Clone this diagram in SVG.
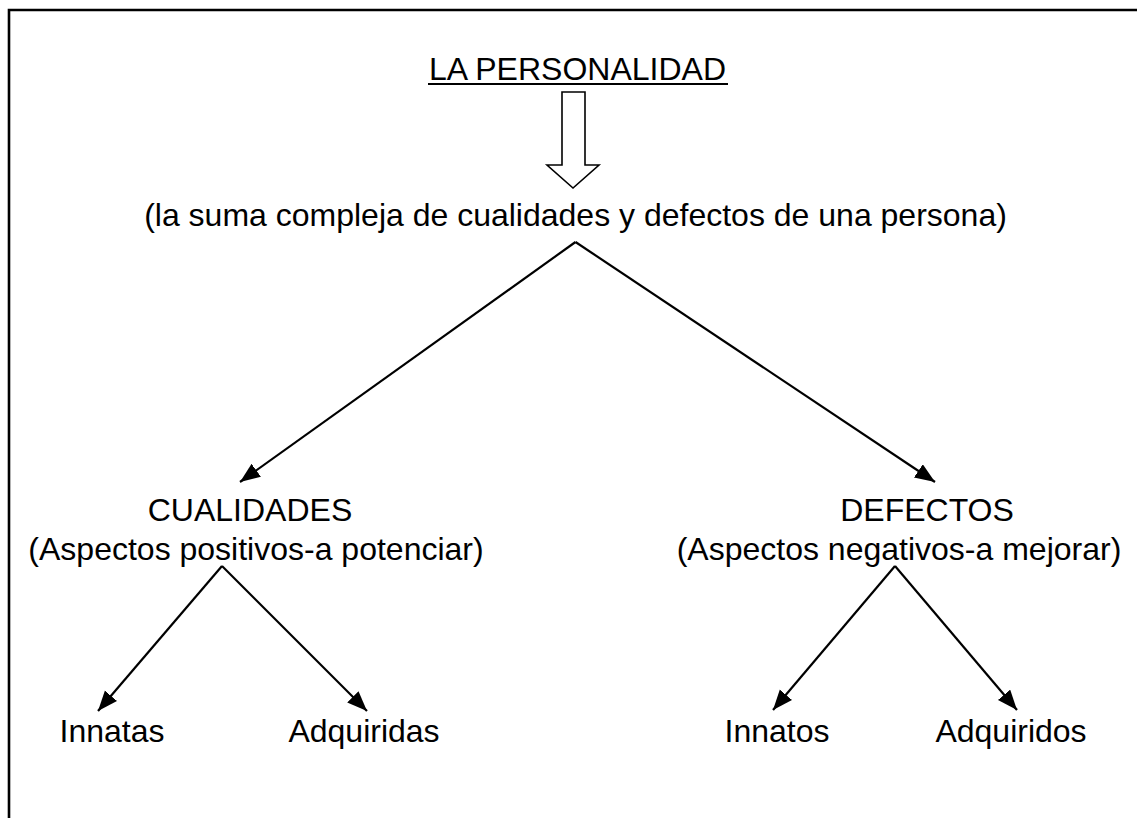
<svg xmlns="http://www.w3.org/2000/svg" width="1137" height="818" viewBox="0 0 1137 818">
<style>
text{font-family:"Liberation Sans",Arial,sans-serif;font-size:32px;fill:#000;text-anchor:middle}
.c{stroke:#000;stroke-width:2.2;fill:none}
</style>
<defs>
<marker id="ah" markerUnits="userSpaceOnUse" markerWidth="22" markerHeight="18" refX="20" refY="8" orient="auto">
<path d="M0,0 L20,8 L0,16 Z" fill="#000"/>
</marker>
</defs>
<rect width="1137" height="818" fill="#fff"/>
<g id="frame">
<path d="M9,818 V10 H1137" stroke="#000" stroke-width="2.6" fill="none"/>
</g>
<g id="title">
<text x="577.5" y="80">LA PERSONALIDAD</text>
<line x1="428" y1="84" x2="728" y2="84" stroke="#000" stroke-width="2.2"/>
</g>
<g id="hollow-arrow">
<path d="M562,92 H585 V165 H599 L573,188 L547,165 H562 Z" fill="#fff" stroke="#000" stroke-width="1.6"/>
</g>
<g id="definition">
<text x="575.5" y="226">(la suma compleja de cualidades y defectos de una persona)</text>
</g>
<g id="cualidades">
<text x="250" y="521">CUALIDADES</text>
<text x="256" y="560">(Aspectos positivos-a potenciar)</text>
</g>
<g id="defectos">
<text x="927" y="521">DEFECTOS</text>
<text x="899" y="560">(Aspectos negativos-a mejorar)</text>
</g>
<g id="innatas"><text x="112" y="742">Innatas</text></g>
<g id="adquiridas"><text x="364" y="742">Adquiridas</text></g>
<g id="innatos"><text x="777" y="742">Innatos</text></g>
<g id="adquiridos"><text x="1011" y="742">Adquiridos</text></g>
<g id="connectors">
<line class="c" x1="575.5" y1="242" x2="240" y2="482" marker-end="url(#ah)"/>
<line class="c" x1="575.5" y1="242" x2="935" y2="482" marker-end="url(#ah)"/>
<line class="c" x1="222" y1="566" x2="98" y2="711" marker-end="url(#ah)"/>
<line class="c" x1="222" y1="566" x2="367" y2="711" marker-end="url(#ah)"/>
<line class="c" x1="895" y1="566" x2="773" y2="710" marker-end="url(#ah)"/>
<line class="c" x1="895" y1="566" x2="1017" y2="710" marker-end="url(#ah)"/>
</g>
</svg>
